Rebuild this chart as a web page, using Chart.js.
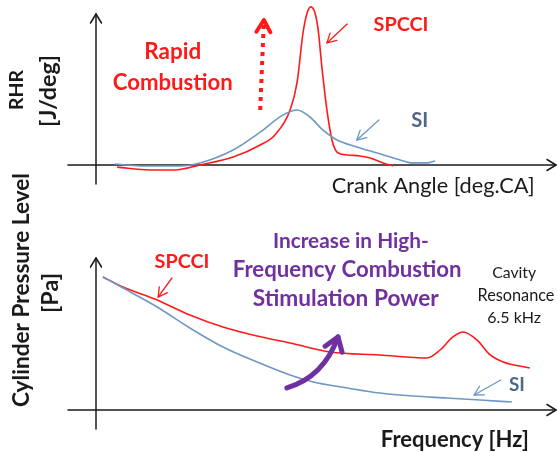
<!DOCTYPE html>
<html><head><meta charset="utf-8">
<script src="https://cdn.jsdelivr.net/npm/chart.js@4"></script>
<style>
html,body{margin:0;padding:0;background:#fff;width:558px;height:452px;overflow:hidden}
canvas{position:absolute;left:0}
#c1{top:0}#c2{top:160px}
</style></head><body>
<canvas id="c1" width="558" height="200"></canvas>
<canvas id="c2" width="558" height="292"></canvas>
<script>
// ---- Top panel: rate of heat release vs crank angle (schematic units) ----
const rhrSiX     = [4.1, 9.6, 18.3, 22.6, 29.8, 35.7, 40.7, 43.7, 46.5, 49.3, 52.4, 56.7, 61.1, 65.4, 68.9, 72.0, 73.7];
const rhrSiY     = [0.6, -0.6, -0.6, 1.3, 9.4, 20.6, 31.3, 34.4, 30.0, 21.9, 15.6, 11.3, 7.5, 3.8, 1.3, 1.3, 2.5];
const rhrSpcciX  = [4.6, 11.7, 17.2, 22.6, 29.8, 35.7, 38.9, 42.2, 43.7, 45.0, 45.9, 46.7, 47.6, 48.3, 49.1, 50.2, 51.3, 52.4, 54.6, 57.4, 59.6, 62.4, 64.6];
const rhrSpcciY  = [-1.3, -3.1, -3.1, 0, 5.0, 12.5, 18.8, 34.4, 51.3, 82.5, 95.0, 98.8, 95.0, 84.4, 61.3, 34.4, 15.6, 8.1, 6.3, 5.6, 4.4, 1.3, -0.6];
// ---- Bottom panel: cylinder pressure level vs frequency (schematic units) ----
const cplSpcciX  = [1.5, 5.9, 13.3, 20.4, 27.6, 35.0, 42.2, 50.9, 61.7, 72.0, 74.8, 77.6, 79.8, 82.8, 85.7, 88.5, 94.3];
const cplSpcciY  = [88.7, 82.0, 73.3, 63.3, 55.3, 49.3, 44.7, 38.7, 36.7, 34.7, 40.0, 48.7, 52.0, 46.7, 36.7, 32.0, 28.0];
const cplSiX     = [1.5, 5.9, 13.3, 20.4, 27.6, 35.0, 42.2, 47.2, 54.6, 61.7, 68.9, 76.3, 83.5, 90.4];
const cplSiY     = [88.7, 81.3, 68.7, 54.7, 42.0, 32.0, 23.3, 18.7, 14.7, 11.3, 9.3, 8.0, 6.7, 5.3];
const seriesNames = ['SPCCI', 'SI'];

const RED = '#ff1a1a', BLUE = '#6f97c4', SITXT = '#4e6889', PURPLE = '#7030a0', INK = '#1a1a1a';
const FONT = 'Lato, "Open Sans", sans-serif';

function pts(xs, ys){ return xs.map((x,i)=>({x, y: ys[i]})); }

function chevron(ctx, x0, y0, x1, y1, len, half){
  const a = Math.atan2(y1-y0, x1-x0);
  ctx.beginPath();
  ctx.moveTo(x1 - len*Math.cos(a) + half*Math.sin(a), y1 - len*Math.sin(a) - half*Math.cos(a));
  ctx.lineTo(x1, y1);
  ctx.lineTo(x1 - len*Math.cos(a) - half*Math.sin(a), y1 - len*Math.sin(a) + half*Math.cos(a));
  ctx.stroke();
}

const sketchPlugin = {
  id: 'sketch',
  beforeDatasetsDraw(chart, args, opts){
    const ctx = chart.ctx, xs = chart.scales.x, ys = chart.scales.y;
    const ox = xs.getPixelForValue(0), oy = ys.getPixelForValue(0);
    ctx.save();
    ctx.strokeStyle = INK; ctx.lineWidth = 1.5; ctx.lineCap = 'round'; ctx.lineJoin = 'round';
    ctx.beginPath(); ctx.moveTo(ox - 28, oy); ctx.lineTo(chart.chartArea.right, oy); ctx.stroke();
    chevron(ctx, ox, oy, chart.chartArea.right, oy, 9, 5.5);
    const top = opts.axisTop;
    ctx.beginPath(); ctx.moveTo(ox, oy + 19); ctx.lineTo(ox, top); ctx.stroke();
    chevron(ctx, ox, oy, ox, top, 9, 5.5);
    ctx.restore();
  },
  afterDatasetsDraw(chart, args, opts){
    const ctx = chart.ctx, xs = chart.scales.x, ys = chart.scales.y;
    const P = (x, y) => [xs.getPixelForValue(x), ys.getPixelForValue(y)];
    ctx.save();
    ctx.lineCap = 'round'; ctx.lineJoin = 'round';
    (opts.arrows || []).forEach(a => {
      const [x0, y0] = P(a.from[0], a.from[1]);
      const [x1, y1] = P(a.to[0], a.to[1]);
      ctx.strokeStyle = a.color; ctx.lineWidth = a.width;
      ctx.beginPath();
      let hx = x0, hy = y0;
      if (a.dash) { ctx.setLineDash(a.dash); ctx.lineCap = 'butt'; }
      ctx.moveTo(x0, y0);
      if (a.ctrl) {
        const [cx, cy] = P(a.ctrl[0], a.ctrl[1]);
        ctx.quadraticCurveTo(cx, cy, x1, y1); hx = cx; hy = cy;
      } else {
        ctx.lineTo(x1, y1);
      }
      ctx.stroke();
      ctx.setLineDash([]); ctx.lineCap = 'round';
      chevron(ctx, hx, hy, x1, y1, a.head, a.half);
    });
    (opts.texts || []).forEach(t => {
      const [x, y] = P(t.at[0], t.at[1]);
      const weight = t.bold ? 'bold ' : '';
      ctx.font = weight + '20px ' + FONT;
      const size = 20 * t.w / ctx.measureText(t.text).width;
      ctx.font = weight + size.toFixed(2) + 'px ' + FONT;
      ctx.fillStyle = t.color;
      ctx.textAlign = 'center'; ctx.textBaseline = 'middle';
      ctx.save();
      ctx.translate(x, y);
      if (t.rot) ctx.rotate(-Math.PI/2);
      ctx.fillText(t.text, 0, 0);
      ctx.restore();
    });
    ctx.restore();
  }
};

function lineDs(label, data, color){
  return { label, data, borderColor: color, borderWidth: 1.6, pointRadius: 0,
           cubicInterpolationMode: 'monotone', fill: false, clip: false };
}

function makeChart(id, datasets, pad, yMin, yMax, sketch){
  return new Chart(document.getElementById(id), {
    type: 'line',
    data: { datasets },
    options: {
      responsive: false, animation: false, devicePixelRatio: 1,
      layout: { padding: pad },
      scales: {
        x: { type: 'linear', min: 0, max: 100, display: false },
        y: { type: 'linear', min: yMin, max: yMax, display: false }
      },
      plugins: { legend: { display: false }, tooltip: { enabled: false }, sketch }
    },
    plugins: [sketchPlugin]
  });
}

makeChart('c1', [
  lineDs(seriesNames[1], pts(rhrSiX, rhrSiY), BLUE),
  lineDs(seriesNames[0], pts(rhrSpcciX, rhrSpcciY), RED)
], { left: 96, right: 2, top: 5, bottom: 35 }, 0, 100, {
  axisTop: 14,
  texts: [
    { text: 'RHR', at: [-17.2, 46.9], w: 40, bold: true, color: INK, rot: true },
    { text: '[J/deg]', at: [-10.4, 46.3], w: 72, bold: true, color: INK, rot: true },
    { text: 'Rapid', at: [16.7, 70.6], w: 57, bold: true, color: RED },
    { text: 'Combustion', at: [16.7, 51.3], w: 120, bold: true, color: RED },
    { text: 'SPCCI', at: [66.3, 87.5], w: 55, bold: true, color: RED },
    { text: 'SI', at: [70.4, 27.5], w: 17, bold: true, color: SITXT },
    { text: 'Crank Angle [deg.CA]', at: [73.3, -13.1], w: 203, bold: false, color: INK }
  ],
  arrows: [
    { from: [54.6, 88.1], to: [50.2, 76.3], color: RED, width: 1.3, head: 9, half: 5 },
    { from: [61.5, 28.1], to: [56.7, 15.6], color: BLUE, width: 1.3, head: 9, half: 5 },
    { from: [35.7, 34.4], to: [36.5, 90.6], color: RED, width: 4, dash: [4, 5], head: 12, half: 7 }
  ]
});

makeChart('c2', [
  lineDs(seriesNames[1], pts(cplSiX, cplSiY), BLUE),
  lineDs(seriesNames[0], pts(cplSpcciX, cplSpcciY), RED)
], { left: 96, right: 2, top: 100, bottom: 42 }, 0, 100, {
  axisTop: 98,
  texts: [
    { text: 'Cylinder Pressure Level', at: [-16.1, 80], w: 234, bold: true, color: INK, rot: true },
    { text: '[Pa]', at: [-9.8, 78], w: 40, bold: true, color: INK, rot: true },
    { text: 'SPCCI', at: [18.7, 98.7], w: 55, bold: true, color: RED },
    { text: 'Increase in High-', at: [55.4, 112.7], w: 156, bold: true, color: PURPLE },
    { text: 'Frequency Combustion', at: [54.6, 93.3], w: 229, bold: true, color: PURPLE },
    { text: 'Stimulation Power', at: [54.3, 74], w: 186, bold: true, color: PURPLE },
    { text: 'Cavity', at: [90.9, 91.3], w: 44, bold: false, color: INK },
    { text: 'Resonance', at: [91.3, 76], w: 77, bold: false, color: INK },
    { text: '6.5 kHz', at: [90.9, 61.3], w: 54, bold: false, color: INK },
    { text: 'SI', at: [91.5, 16.7], w: 16, bold: true, color: SITXT },
    { text: 'Frequency [Hz]', at: [78, -20], w: 148, bold: true, color: INK }
  ],
  arrows: [
    { from: [16.5, 88], to: [13.5, 75.3], color: RED, width: 1.3, head: 9, half: 5 },
    { from: [88, 20], to: [82.2, 10], color: BLUE, width: 1.3, head: 9, half: 5 },
    { from: [41.5, 14.7], ctrl: [49.5, 22], to: [52.6, 48.7], color: PURPLE, width: 5, head: 13, half: 9 }
  ]
});
</script>
</body></html>
